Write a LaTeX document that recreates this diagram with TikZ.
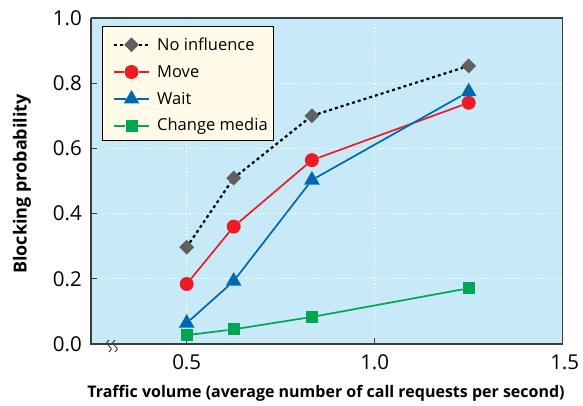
\documentclass[tikz,border=0pt]{standalone}
\usepackage{fontspec}
\setmainfont{Open Sans}
\usetikzlibrary{shapes.geometric}

\definecolor{plotbg}{HTML}{C7E9F8}
\definecolor{legbg}{HTML}{FFFBE8}
\definecolor{axisgray}{HTML}{3C3C3C}
\definecolor{nigray}{HTML}{606060}
\definecolor{movered}{HTML}{ED1C24}
\definecolor{waitblue}{HTML}{0067B1}
\definecolor{mediagreen}{HTML}{00A650}

\tikzset{
  gridline/.style = {white, line width = 1pt, dash pattern = on 1.5pt off 2pt},
  axisline/.style = {axisgray, line width = 1.8pt},
  nidash/.style = {black, line width = 2.2pt, dash pattern = on 3pt off 3pt},
  moveline/.style = {movered, line width = 1.7pt},
  waitline/.style = {waitblue, line width = 1.7pt},
  medialine/.style = {mediagreen, line width = 1.7pt},
  nimark/.style = {diamond, fill = nigray, inner sep = 0pt, minimum size = 15pt},
  movemark/.style = {circle, fill = movered, inner sep = 0pt, minimum size = 14pt},
  waitmark/.style = {isosceles triangle, shape border rotate = 90, isosceles triangle apex angle = 60, fill = waitblue, inner sep = 0pt, minimum size = 13.5pt},
  mediamark/.style = {rectangle, fill = mediagreen, inner sep = 0pt, minimum size = 12pt},
  ticklabel/.style = {font = \fontsize{20.5}{22}\selectfont, inner sep = 0pt},
  legtext/.style = {font = \fontsize{16.5}{19}\selectfont, anchor = west, inner sep = 0pt}
}

\begin{document}
\begin{tikzpicture}[x=1pt, y=1pt]
\useasboundingbox (0,0) rectangle (583,405);

\begin{scope}[shift={(-1.3,61)}, x=376pt, y=326pt]
\fill[plotbg] (0.2455,0) rectangle (1.5,1);
% grid
\draw[gridline] (0.2455,0.2) -- (1.5,0.2);
\draw[gridline] (0.2455,0.4) -- (1.5,0.4);
\draw[gridline] (0.2455,0.6) -- (1.5,0.6);
\draw[gridline] (0.2455,0.8) -- (1.5,0.8);
\draw[gridline] (0.5,0) -- (0.5,1);
\draw[gridline] (1.0,0) -- (1.0,1);
% ticks
\foreach \t in {0.2,0.4,0.6,0.8}
  \draw[axisgray, line width = 1pt] (0.2455,\t) -- +(6pt,0);
\draw[axisgray, line width = 1pt] (0.5,0) -- +(0,6pt);
\draw[axisgray, line width = 1pt] (1.0,0) -- +(0,6pt);
% frame
\draw[axisgray, line width = 1.2pt] (0.2455,1) -- (1.5,1) -- (1.5,0);
\draw[axisline] (0.2455,1) -- (0.2455,0) -- (1.5,0);
% axis break
\draw[axisgray, line width = 1pt] (0.2455,0) ++(18pt,4pt) coordinate (b1) .. controls +(-3pt,-3pt) and +(-3pt,3pt) .. ++(0,-6pt) .. controls +(3pt,-3pt) and +(3pt,3pt) .. ++(0,-6pt);
\draw[axisgray, line width = 1pt] (b1) ++(6pt,0) .. controls +(-3pt,-3pt) and +(-3pt,3pt) .. ++(0,-6pt) .. controls +(3pt,-3pt) and +(3pt,3pt) .. ++(0,-6pt);

% tick labels
\draw (0.2455,0) ++(-9pt,0) node[ticklabel, anchor = east, name = y0]{0.0};
\draw (0.2455,0.2) ++(-9pt,0) node[ticklabel, anchor = east, name = y2]{0.2};
\draw (0.2455,0.4) ++(-9pt,0) node[ticklabel, anchor = east, name = y4]{0.4};
\draw (0.2455,0.6) ++(-9pt,0) node[ticklabel, anchor = east, name = y6]{0.6};
\draw (0.2455,0.8) ++(-9pt,0) node[ticklabel, anchor = east, name = y8]{0.8};
\draw (0.2455,1.0) ++(-9pt,0) node[ticklabel, anchor = east, name = y10]{1.0};
\draw (0.5,0) ++(0,-18pt) node[ticklabel, name = x5]{0.5};
\draw (1.0,0) ++(0,-18pt) node[ticklabel, name = x10]{1.0};
\draw (1.5,0) ++(2pt,-18pt) node[ticklabel, name = x15]{1.5};

% no influence
\draw (0.5,0.297) node[nimark, name = n1]{};
\draw (0.625,0.509) node[nimark, name = n2]{};
\draw (0.833,0.700) node[nimark, name = n3]{};
\draw (1.25,0.853) node[nimark, name = n4]{};
\draw[nidash] (n1) -- (n2) -- (n3) -- (n4);
% move
\draw (0.5,0.184) node[movemark, name = m1]{};
\draw (0.625,0.360) node[movemark, name = m2]{};
\draw (0.833,0.564) node[movemark, name = m3]{};
\draw (1.25,0.740) node[movemark, name = m4]{};
\draw[moveline] (m1) -- (m2) -- (m3) -- (m4);
% wait
\draw (0.5,0.064) node[waitmark, name = w1]{};
\draw (0.625,0.193) node[waitmark, name = w2]{};
\draw (0.833,0.503) node[waitmark, name = w3]{};
\draw (1.25,0.774) node[waitmark, name = w4]{};
\draw[waitline] (w1) -- (w2) -- (w3) -- (w4);
% change media
\draw (0.5,0.027) node[mediamark, name = c1]{};
\draw (0.625,0.045) node[mediamark, name = c2]{};
\draw (0.833,0.083) node[mediamark, name = c3]{};
\draw (1.25,0.171) node[mediamark, name = c4]{};
\draw[medialine] (c1) -- (c2) -- (c3) -- (c4);
\end{scope}

% legend
\draw[black, line width = 1pt, fill = legbg] (102,378) rectangle (273,265);
\draw (131.5,360.3) node[nimark, name = l1]{};
\draw[nidash] (114,360.3) -- (l1) -- (149,360.3);
\draw (157,360.3) node[legtext, name = t1]{No influence};
\draw (131.5,333) node[movemark, name = l2]{};
\draw[moveline] (114,333) -- (l2) -- (149,333);
\draw (157,333) node[legtext, name = t2]{Move};
\draw (131.5,306) node[waitmark, name = l3]{};
\draw[waitline] (114,306) -- (l3) -- (149,306);
\draw (157,306) node[legtext, name = t3]{Wait};
\draw (131.5,279) node[mediamark, name = l4]{};
\draw[medialine] (114,279) -- (l4) -- (149,279);
\draw (157,279) node[legtext, name = t4]{Change media};

% axis titles
\draw (22,221) node[rotate = 90, font = \bfseries\fontsize{18}{20}\selectfont, name = ylab]{Blocking probability};
\draw (326,12) node[font = \bfseries\fontsize{16}{18}\selectfont, name = xlab]{Traffic volume (average number of call requests per second)};
\end{tikzpicture}
\end{document}
